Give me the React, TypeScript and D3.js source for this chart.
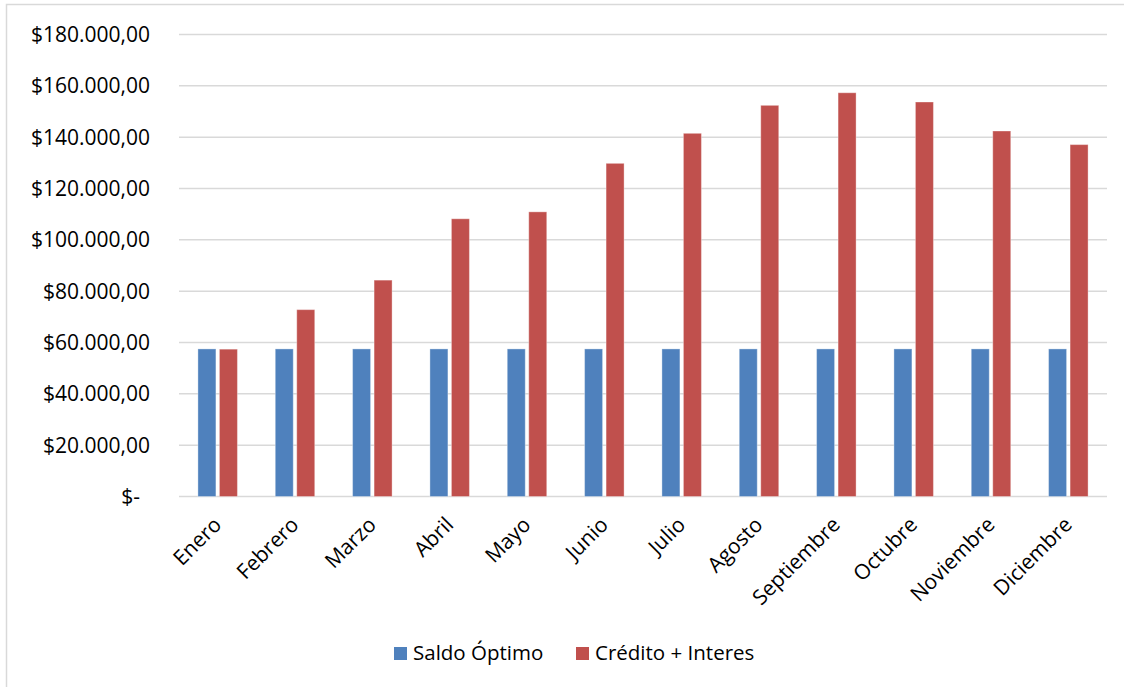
import React, { useEffect, useRef } from "react";
import * as d3 from "d3";

const months = ["Enero", "Febrero", "Marzo", "Abril", "Mayo", "Junio", "Julio", "Agosto", "Septiembre", "Octubre", "Noviembre", "Diciembre"];
const saldoOptimo = [57500, 57500, 57500, 57500, 57500, 57500, 57500, 57500, 57500, 57500, 57500, 57500];
const creditoInteres = [57400, 72800, 84300, 108200, 110900, 129800, 141500, 152400, 157300, 153700, 142400, 137100];
const seriesNames = ["Saldo Óptimo", "Crédito + Interes"];
const seriesColors = ["#4F81BD", "#C0504D"];
const yTicks = [0, 20000, 40000, 60000, 80000, 100000, 120000, 140000, 160000, 180000];

const W = 1124;
const H = 687;
const FONT = "'Open Sans', sans-serif";

function fmt(v: number) {
    if (v === 0) return "$-";
    const s = d3.format(",.2f")(v); // 180,000.00
    return "$" + s.replace(/,/g, "#").replace(".", ",").replace(/#/g, ".");
}

export default function App() {
    const ref = useRef<SVGSVGElement>(null);

    useEffect(() => {
        const svg = d3.select(ref.current);
        svg.selectAll("*").remove();

        const plot = { left: 179, right: 1107, top: 34.5, bottom: 496.5 };

        // chart frame
        svg.append("rect")
            .attr("x", 6.5).attr("y", 4.5)
            .attr("width", W + 20).attr("height", H + 20)
            .attr("fill", "#fff")
            .attr("stroke", "#d9d9d9")
            .attr("stroke-width", 1.5);

        const x0 = d3.scaleBand()
            .domain(months)
            .range([plot.left, plot.right])
            .padding(0);

        const x1 = d3.scaleBand()
            .domain(["0", "1"])
            .range([0, x0.bandwidth()])
            .paddingInner(0.163)
            .paddingOuter(0.88);

        const y = d3.scaleLinear()
            .domain([0, 180000])
            .range([plot.bottom, plot.top]);

        // gridlines
        svg.append("g")
            .selectAll("line")
            .data(yTicks)
            .enter()
            .append("line")
            .attr("x1", plot.left)
            .attr("x2", plot.right)
            .attr("y1", d => y(d))
            .attr("y2", d => y(d))
            .attr("stroke", "#d9d9d9")
            .attr("stroke-width", 1.5);

        // y labels
        svg.append("g")
            .selectAll("text")
            .data(yTicks)
            .enter()
            .append("text")
            .text(d => fmt(d))
            .attr("x", d => d === 0 ? 140 : 150)
            .attr("y", d => y(d))
            .attr("dy", "0.35em")
            .attr("text-anchor", "end")
            .attr("font-family", FONT)
            .attr("font-size", "21px")
            .attr("fill", "#000");

        // bars
        const series = [saldoOptimo, creditoInteres];
        const groups = svg.append("g")
            .selectAll("g")
            .data(months)
            .enter()
            .append("g")
            .attr("transform", d => `translate(${x0(d)},0)`);

        groups.selectAll("rect")
            .data((d, i) => series.map((s, k) => ({ k, v: s[i] })))
            .enter()
            .append("rect")
            .attr("x", d => x1(String(d.k)) as number)
            .attr("y", d => y(d.v))
            .attr("width", x1.bandwidth())
            .attr("height", d => plot.bottom - y(d.v))
            .attr("fill", d => seriesColors[d.k])
            .attr("stroke", "#ffffff")
            .attr("stroke-opacity", 0.35)
            .attr("stroke-width", 1);

        // x labels
        svg.append("g")
            .selectAll("text")
            .data(months)
            .enter()
            .append("text")
            .text(d => d)
            .attr("transform", d => `translate(${(x0(d) as number) + x0.bandwidth() / 2 + 5},526) rotate(-45)`)
            .attr("text-anchor", "end")
            .attr("font-family", FONT)
            .attr("font-size", "21px")
            .attr("fill", "#000");

        // legend
        const legendX = [394, 576];
        const leg = svg.append("g")
            .selectAll("g")
            .data(seriesNames)
            .enter()
            .append("g")
            .attr("transform", (d, i) => `translate(${legendX[i]},647)`);

        leg.append("rect")
            .attr("width", 13)
            .attr("height", 13)
            .attr("fill", (d, i) => seriesColors[i]);

        leg.append("text")
            .text(d => d)
            .attr("x", 19)
            .attr("y", 12.5)
            .attr("font-family", FONT)
            .attr("font-size", "20.5px")
            .attr("fill", "#000");
    }, []);

    return (
        <svg
            ref={ref}
            width={W}
            height={H}
            style={{ position: "absolute", left: 0, top: 0, background: "#fff" }}
        />
    );
}
